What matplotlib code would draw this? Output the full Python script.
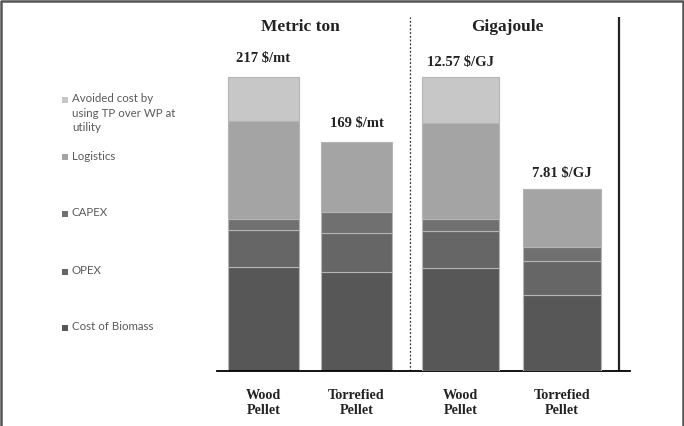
import matplotlib
matplotlib.use("Agg")
import matplotlib.pyplot as plt
from matplotlib.lines import Line2D
from matplotlib.patches import Rectangle
import matplotlib.transforms as mtransforms

# values (bottom -> top of each stack)
categories = ["Wood\nPellet", "Torrefied\nPellet"]
series = ["Cost of Biomass", "OPEX", "CAPEX", "Logistics",
          "Avoided cost by\nusing TP over WP at\nutility"]
colors = ["#575757", "#666666", "#707070", "#a4a4a4", "#c7c7c7"]

biomass_mt = [77, 73]
opex_mt = [27, 29]
capex_mt = [8, 15]
logistics_mt = [72, 52]
avoided_mt = [33, 0]

biomass_gj = [4.42, 3.26]
opex_gj = [1.57, 1.43]
capex_gj = [0.50, 0.61]
logistics_gj = [4.14, 2.51]
avoided_gj = [1.94, 0]

mt_stack = [biomass_mt, opex_mt, capex_mt, logistics_mt, avoided_mt]
gj_stack = [biomass_gj, opex_gj, capex_gj, logistics_gj, avoided_gj]

x_mt = [0, 0.93]
x_gj = [1.97, 2.985]

fig = plt.figure(figsize=(6.84, 4.26), dpi=100)
W, H = 684, 426
ax = fig.add_axes([217 / W, 55 / H, 413 / W, 354 / H])
ax2 = ax.twinx()

serif = "Liberation Serif"

# stacked bars, metric ton on ax, gigajoule on ax2
bottom = [0, 0]
for vals, c in zip(mt_stack, colors):
    ax.bar(x_mt, vals, 0.71, bottom=bottom, color=c, edgecolor="#b5b5b5", linewidth=0.8)
    bottom = [b + v for b, v in zip(bottom, vals)]
tot_mt = bottom

bottom = [0, 0]
for vals, c in zip(gj_stack, colors):
    ax2.bar(x_gj, vals, 0.775, bottom=bottom, color=c, edgecolor="#b5b5b5", linewidth=0.8)
    bottom = [b + v for b, v in zip(bottom, vals)]
tot_gj = bottom

for xi, t in zip(x_mt, tot_mt):
    ax.annotate(f"{t:.0f} $/mt", (xi, t), xytext=(0, 13), textcoords="offset points",
                ha="center", va="center", fontsize=10.5, fontweight="bold",
                family=serif, color="#222222")
for xi, t in zip(x_gj, tot_gj):
    ax2.annotate(f"{t:.2f} $/GJ", (xi, t), xytext=(0, 10.5), textcoords="offset points",
                 ha="center", va="center", fontsize=10.5, fontweight="bold",
                 family=serif, color="#222222")

ax.set_xlim(-0.465, 3.665)
ax.set_ylim(0, 261)
ax2.set_ylim(0, 15.15)

for a in (ax, ax2):
    for s in ["top", "right", "left"]:
        a.spines[s].set_visible(False)
    a.set_yticks([])
ax2.spines["bottom"].set_visible(False)
ax.spines["bottom"].set_color("black")
ax.spines["bottom"].set_linewidth(1.3)

ax.set_xticks(x_mt + x_gj, categories + categories)
ax.tick_params(axis="x", length=0, pad=13)
for lbl in ax.get_xticklabels():
    lbl.set_fontfamily(serif)
    lbl.set_fontweight("bold")
    lbl.set_fontsize(10.2)
    lbl.set_color("#222222")

# separators
ax.axvline(1.465, ymin=0, ymax=1.0, color="#333333", linestyle=(0, (1.5, 1.5)), linewidth=0.9)
ax.axvline(3.555, ymin=0, ymax=0.997, color="#222222", linewidth=1.6)

trans = mtransforms.blended_transform_factory(ax.transData, ax.transAxes)
ax.text(0.365, 0.972, "Metric ton", transform=trans, ha="center", va="center",
        fontsize=12.5, fontweight="bold", family=serif, color="#222222")
ax.text(2.435, 0.972, "Gigajoule", transform=trans, ha="center", va="center",
        fontsize=12.5, fontweight="bold", family=serif, color="#222222")

# legend on the left, top entry first
leg_y = [328, 272, 214, 157, 100]
for name, c, y in zip(series, colors, leg_y):
    fig.patches.append(Rectangle((62 / W, 1 - (y + 3) / H), 6 / W, 6 / H,
                                 transform=fig.transFigure, facecolor=c, edgecolor="none"))
    fig.text(72 / W, 1 - (y - 6.5) / H, name, ha="left", va="top", fontsize=8.3,
             family="Lato", color="#5a5a5a", linespacing=1.38)

# frame around the picture
fig.lines.append(Line2D([0.8 / W, 0.8 / W, 1 - 1.5 / W, 1 - 1.5 / W], [0, 1 - 0.5 / H, 1 - 0.5 / H, 0],
                        transform=fig.transFigure, color="#555555", linewidth=1.8))

fig.savefig("out.png", dpi=100)
